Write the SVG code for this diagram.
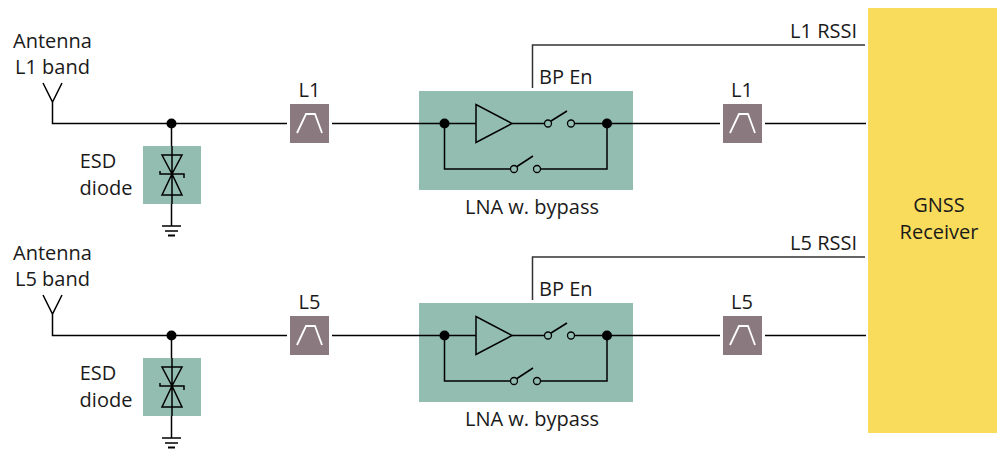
<svg xmlns="http://www.w3.org/2000/svg" xmlns:xlink="http://www.w3.org/1999/xlink" width="997" height="450" viewBox="0 0 997 450">
<style>
text{font-family:"Open Sans","Noto Sans","Liberation Sans",sans-serif;font-size:20px;fill:#1a1a1a}
.m{text-anchor:middle}.e{text-anchor:end}
.w{fill:none;stroke:#000;stroke-width:1.5}
.s{fill:none;stroke:#333;stroke-width:1.5}
.t{fill:#92bdb0}.f{fill:#8a7a80}
.j{fill:#000}
.c{fill:none;stroke:#000;stroke-width:1.3}
.bp{fill:none;stroke:#fff;stroke-width:1.8}
</style>
<defs>
<g id="filter"><rect class="f" x="0" y="0" width="39" height="39"/><path class="bp" d="M7 29 16 10H25L32 29"/></g>
<g id="diode"><rect class="t" x="0" y="0" width="58" height="58"/><path class="w" d="M19 9H39L29 28ZM19 49H39L29 28ZM17 25V28H41V32M29 0V58"/></g>
<g id="ground"><path class="w" d="M0 0H19M3 5H16"/><path d="M6 9.500H13" fill="none" stroke="#000" stroke-width="2"/></g>
<g id="lna">
<rect class="t" x="0" y="0" width="214" height="99"/>
<path class="w" d="M25.500 32.500V78H91.500M122 78H188V32.500M0 32.500H57M93 32.500H125.500M156 32.500H214"/>
<path class="w" d="M57 13.500V51.500L93 32.500Z"/>
<circle class="j" cx="25.500" cy="32.500" r="5"/><circle class="j" cx="188" cy="32.500" r="5"/>
<circle class="c" cx="129" cy="32.500" r="3.500"/><circle class="c" cx="152" cy="32.500" r="3.500"/>
<path class="w" d="M132 30 148 20"/>
<circle class="c" cx="95" cy="78" r="3.500"/><circle class="c" cx="118" cy="78" r="3.500"/>
<path class="w" d="M98 75.500 114 65"/>
</g>
</defs>
<g id="connectors">
<path class="w" d="M43 83 52.500 102 62 83M52.500 102V123.500H287M332 123.500H419M633 123.500H720M765 123.500H866M171.500 123.500V146M171.500 204V226"/>
<path class="s" d="M532.500 88V45H865"/>
<path class="w" d="M43 295 52.500 314 62 295M52.500 314V335.500H287M332 335.500H419M633 335.500H720M765 335.500H866M171.500 335.500V358M171.500 416V438"/>
<path class="s" d="M532.500 300V257H865"/>
<circle class="j" cx="171.500" cy="123.500" r="5"/>
<circle class="j" cx="171.500" cy="335.500" r="5"/>
</g>
<g id="antenna-l1"><text class="m" x="52.500" y="47.500">Antenna</text><text class="m" x="52.500" y="74">L1 band</text></g>
<g id="esd-l1"><use xlink:href="#diode" href="#diode" x="143" y="146"/><text class="m" x="98" y="167.500">ESD</text><text class="m" x="106" y="195">diode</text><use xlink:href="#ground" href="#ground" x="162" y="226"/></g>
<g id="filter-l1-a"><use xlink:href="#filter" href="#filter" x="290" y="104"/><text class="m" x="309.500" y="97">L1</text></g>
<g id="lna-l1"><use xlink:href="#lna" href="#lna" x="419" y="91"/><text x="539" y="84">BP En</text><text class="m" x="532" y="214">LNA w. bypass</text></g>
<g id="filter-l1-b"><use xlink:href="#filter" href="#filter" x="723" y="104"/><text class="m" x="742" y="97">L1</text></g>
<g id="rssi-l1"><text class="e" x="857" y="38">L1 RSSI</text></g>
<g id="antenna-l5"><text class="m" x="52.500" y="259.500">Antenna</text><text class="m" x="52.500" y="286">L5 band</text></g>
<g id="esd-l5"><use xlink:href="#diode" href="#diode" x="143" y="358"/><text class="m" x="98" y="379.500">ESD</text><text class="m" x="106" y="407">diode</text><use xlink:href="#ground" href="#ground" x="162" y="438"/></g>
<g id="filter-l5-a"><use xlink:href="#filter" href="#filter" x="290" y="316"/><text class="m" x="309.500" y="309">L5</text></g>
<g id="lna-l5"><use xlink:href="#lna" href="#lna" x="419" y="303"/><text x="539" y="296">BP En</text><text class="m" x="532" y="426">LNA w. bypass</text></g>
<g id="filter-l5-b"><use xlink:href="#filter" href="#filter" x="723" y="316"/><text class="m" x="742" y="309">L5</text></g>
<g id="rssi-l5"><text class="e" x="857" y="250">L5 RSSI</text></g>
<g id="receiver"><rect x="868" y="8" width="129" height="425" fill="#f9dc5c"/><text class="m" x="939" y="212">GNSS</text><text class="m" x="939" y="239">Receiver</text></g>
</svg>
